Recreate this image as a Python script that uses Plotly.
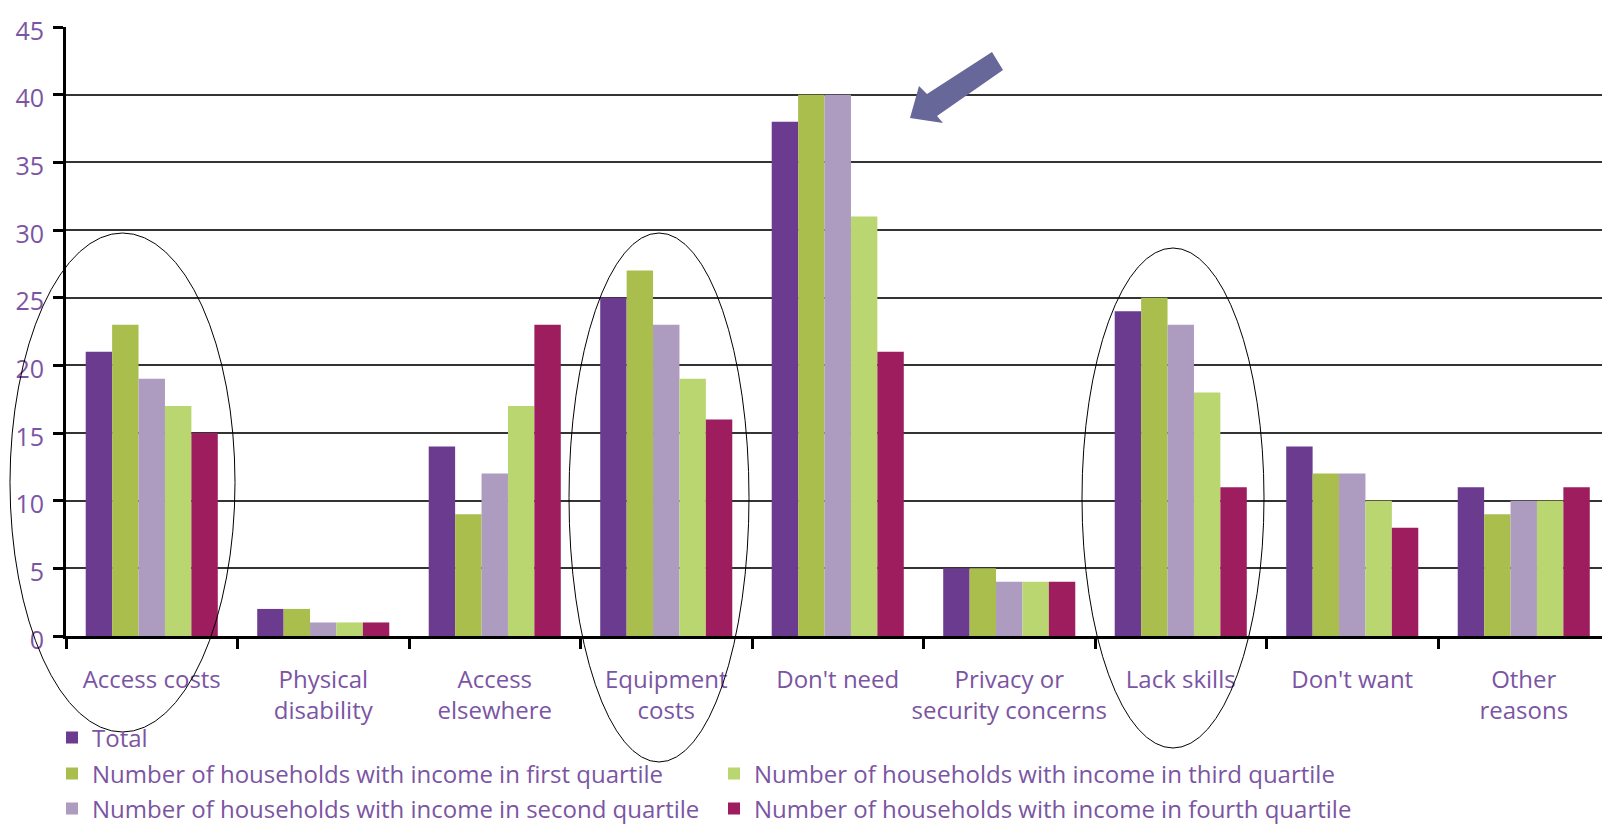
import plotly.graph_objects as go

categories = ["Access costs", "Physical<br>disability", "Access<br>elsewhere", "Equipment<br>costs",
              "Don't need", "Privacy or<br>security concerns", "Lack skills", "Don't want", "Other<br>reasons"]

total = [21, 2, 14, 25, 38, 5, 24, 14, 11]
q1 = [23, 2, 9, 27, 40, 5, 25, 12, 9]
q2 = [19, 1, 12, 23, 40, 4, 23, 12, 10]
q3 = [17, 1, 17, 19, 31, 4, 18, 10, 10]
q4 = [15, 1, 23, 16, 21, 4, 11, 8, 11]

series_names = ["Total",
                "Number of households with income in first quartile",
                "Number of households with income in second quartile",
                "Number of households with income in third quartile",
                "Number of households with income in fourth quartile"]
series_values = [total, q1, q2, q3, q4]
colors = ["#6A3B8E", "#A9BE4D", "#AD9BC0", "#B9D670", "#9E1D5E"]
legend_ids = ["legend", "legend2", "legend3", "legend2", "legend3"]

TEXT = "#7B55A3"
FONT = "Open Sans"

W, H = 1602, 824
L, R, T, B = 66, 0, 27, 188
PW, PH = W - L - R, H - T - B
CAT_W = 171.5


def px(x):
    return (x - L) / PW


def py(y):
    return (H - B - y) / PH


fig = go.Figure()
for name, vals, col, lg in zip(series_names, series_values, colors, legend_ids):
    fig.add_trace(go.Bar(x=categories, y=vals, name=name, marker_color=col,
                         marker_line_width=0, legend=lg))

shapes = []
# ellipses (pixel boxes)
for (x0, y0, x1, y1) in [(10, 233, 235, 732), (569, 233, 749, 762), (1082, 248, 1264, 748)]:
    shapes.append(dict(type="circle", xref="paper", yref="paper",
                       x0=px(x0), x1=px(x1), y0=py(y1), y1=py(y0),
                       line=dict(color="black", width=1), layer="above"))
# block arrow
arrow_pts = [(910, 118), (943, 123), (937, 116), (1003, 70), (992, 52), (927, 94), (919, 86)]
path = "M " + " L ".join(f"{px(a):.5f},{py(b):.5f}" for a, b in arrow_pts) + " Z"
shapes.append(dict(type="path", xref="paper", yref="paper", path=path,
                   fillcolor="#67679A", line=dict(width=0), layer="above"))

legend_common = dict(orientation="h", font=dict(family=FONT, size=24, color=TEXT),
                     bgcolor="rgba(0,0,0,0)", borderwidth=0, xanchor="left", yanchor="middle",
                     entrywidth=617, entrywidthmode="pixels", tracegroupgap=0,
                     itemclick=False, itemdoubleclick=False)

fig.update_layout(
    width=W, height=H,
    margin=dict(l=L, r=R, t=T, b=B, pad=0, autoexpand=False),
    paper_bgcolor="white", plot_bgcolor="white",
    barmode="group", bargap=0.23, bargroupgap=0,
    font=dict(family=FONT, color=TEXT),
    showlegend=True,
    legend=dict(x=px(52), y=py(738), **legend_common),
    legend2=dict(x=px(52), y=py(774), **legend_common),
    legend3=dict(x=px(52), y=py(809), **legend_common),
    shapes=shapes,
    xaxis=dict(range=[-0.5, -0.5 + PW / CAT_W], showline=True, linecolor="black", linewidth=3,
               ticks="outside", tickson="boundaries", ticklen=10, tickwidth=3, tickcolor="black",
               tickangle=0, automargin=False,
               tickfont=dict(family=FONT, size=24, color=TEXT), ticklabelstandoff=20,
               showgrid=False, zeroline=False, fixedrange=True),
    yaxis=dict(range=[0, 45], dtick=5, tick0=0, showline=True, linecolor="black", linewidth=3,
               ticks="outside", ticklen=10, tickwidth=3, tickcolor="black", automargin=False,
               tickfont=dict(family=FONT, size=25, color=TEXT), ticklabelstandoff=4,
               ticklabelshift=4,
               showgrid=True, gridcolor="#333333", gridwidth=2, zeroline=False, fixedrange=True),
)

fig.write_html("out.html", config={"displayModeBar": False},
               post_script="document.body.style.margin='0';document.body.style.overflow='hidden';")
